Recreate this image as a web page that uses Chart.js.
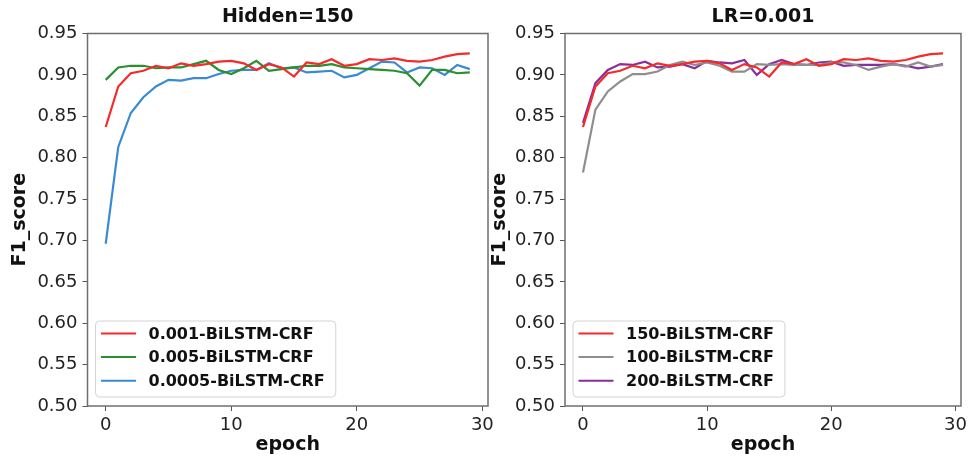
<!DOCTYPE html>
<html lang="en">
<head>
  <meta charset="UTF-8" />
  <title>F1 score per epoch</title>
  <script src="https://cdn.jsdelivr.net/npm/chart.js"></script>
  <style>
    body {
      margin: 0;
      background: #fff;
      font-family: "DejaVu Sans", sans-serif;
    }

    #wrap {
      position: relative;
      width: 971px;
      height: 458px;
      overflow: hidden;
    }

    canvas {
      position: absolute;
      top: 0;
    }
  </style>
</head>
<body>
  <div id="wrap">
    <canvas id="left" width="520" height="458" style="left:0"></canvas>
    <canvas id="right" width="491" height="458" style="left:480px"></canvas>
  </div>

  <script>
    const epochs = [0, 1, 2, 3, 4, 5, 6, 7, 8, 9, 10, 11, 12, 13, 14, 15, 16, 17, 18, 19, 20, 21, 22, 23, 24, 25, 26, 27, 28, 29];
    const xTicks = [0, 10, 20, 30];
    const yTicks = [0.5, 0.55, 0.6, 0.65, 0.7, 0.75, 0.8, 0.85, 0.9, 0.95];

    // left panel: learning rates at hidden=150
    const lr001 = [0.837, 0.886, 0.902, 0.905, 0.911, 0.908, 0.914, 0.911, 0.913, 0.916, 0.917, 0.914, 0.906, 0.913, 0.909, 0.898, 0.915, 0.913, 0.919, 0.911, 0.913, 0.919, 0.918, 0.920, 0.917, 0.916, 0.918, 0.922, 0.925, 0.926];
    const lr005 = [0.894, 0.909, 0.911, 0.911, 0.908, 0.909, 0.909, 0.913, 0.917, 0.906, 0.901, 0.908, 0.917, 0.905, 0.907, 0.909, 0.911, 0.911, 0.913, 0.909, 0.908, 0.907, 0.906, 0.905, 0.902, 0.887, 0.906, 0.906, 0.902, 0.903];
    const lr0005 = [0.696, 0.813, 0.854, 0.873, 0.886, 0.894, 0.893, 0.896, 0.896, 0.901, 0.905, 0.906, 0.906, 0.914, 0.908, 0.909, 0.903, 0.904, 0.905, 0.897, 0.900, 0.908, 0.916, 0.915, 0.903, 0.909, 0.908, 0.900, 0.912, 0.907];

    // right panel: hidden sizes at lr=0.001 (150 is the same run as lr001)
    const h150 = lr001;
    const h100 = [0.782, 0.858, 0.880, 0.892, 0.901, 0.901, 0.904, 0.912, 0.916, 0.912, 0.915, 0.911, 0.904, 0.904, 0.913, 0.912, 0.913, 0.912, 0.912, 0.912, 0.915, 0.915, 0.912, 0.906, 0.910, 0.913, 0.910, 0.915, 0.910, 0.912];
    const h200 = [0.842, 0.890, 0.906, 0.913, 0.912, 0.916, 0.909, 0.910, 0.913, 0.908, 0.917, 0.915, 0.914, 0.918, 0.900, 0.913, 0.918, 0.913, 0.912, 0.915, 0.916, 0.911, 0.912, 0.912, 0.912, 0.913, 0.911, 0.908, 0.910, 0.913];

    const FONT = "DejaVu Sans";

    // matplotlib-like frame + legend in the lower left corner
    const frameLegend = {
      id: "frameLegend",
      afterDatasetsDraw(chart) {
        const { ctx, chartArea: a } = chart;
        const sets = chart.data.datasets;
        ctx.save();

        ctx.font = `bold 16px "${FONT}"`;
        const textW = Math.max(...sets.map((d) => ctx.measureText(d.label).width));
        const bx = a.left + 8;
        const by = a.bottom - 85;
        const bw = 53 + textW + 11;
        const bh = 76;
        ctx.beginPath();
        ctx.roundRect(bx, by, bw, bh, 4);
        ctx.fillStyle = "rgba(255,255,255,0.85)";
        ctx.fill();
        ctx.strokeStyle = "#d4d4d4";
        ctx.lineWidth = 1;
        ctx.stroke();

        sets.forEach((d, i) => {
          const y = by + 12.5 + i * 23.6;
          ctx.beginPath();
          ctx.moveTo(bx + 5.5, y);
          ctx.lineTo(bx + 40.5, y);
          ctx.strokeStyle = d.borderColor;
          ctx.lineWidth = 2;
          ctx.stroke();
          ctx.fillStyle = "#111";
          ctx.textBaseline = "middle";
          ctx.fillText(d.label, bx + 53, y + 1);
        });

        ctx.strokeStyle = "#6e6e6e";
        ctx.lineWidth = 1.5;
        ctx.strokeRect(a.left, a.top, a.right - a.left, a.bottom - a.top);
        ctx.restore();
      },
    };

    function makeChart(id, title, series, yWidth, padRight) {
      const ctx = document.getElementById(id).getContext("2d");
      return new Chart(ctx, {
        type: "line",
        data: {
          datasets: series.map((s) => ({
            label: s.label,
            data: epochs.map((e, i) => ({ x: e, y: s.values[i] })),
            borderColor: s.color,
            borderWidth: 2.2,
            pointRadius: 0,
            fill: false,
            tension: 0,
          })),
        },
        options: {
          animation: false,
          responsive: false,
          devicePixelRatio: 1,
          layout: { padding: { left: 0, right: padRight, top: 0, bottom: 0 } },
          plugins: {
            legend: { display: false },
            tooltip: { enabled: false },
            title: {
              display: true,
              text: title,
              fullSize: false,
              color: "#111",
              font: { family: FONT, size: 19, weight: "bold" },
              padding: { top: 6, bottom: 4.7 },
            },
          },
          scales: {
            x: {
              type: "linear",
              min: -1.45,
              max: 30.45,
              afterBuildTicks: (s) => { s.ticks = xTicks.map((v) => ({ value: v })); },
              afterFit: (s) => { s.height = 52; },
              border: { display: false },
              grid: { drawOnChartArea: false, tickLength: 5, color: "#555" },
              ticks: { color: "#222", padding: 4, font: { family: FONT, size: 18 } },
              title: {
                display: true,
                text: "epoch",
                color: "#111",
                font: { family: FONT, size: 19, weight: "bold" },
                padding: { top: 0, bottom: 1.8 },
              },
            },
            y: {
              type: "linear",
              min: 0.5,
              max: 0.95,
              afterBuildTicks: (s) => { s.ticks = yTicks.map((v) => ({ value: v })); },
              afterFit: (s) => { s.width = yWidth; },
              border: { display: false },
              grid: { drawOnChartArea: false, tickLength: 5, color: "#555" },
              ticks: {
                color: "#222",
                padding: 5,
                font: { family: FONT, size: 18 },
                callback: (v) => v.toFixed(2),
              },
              title: {
                display: true,
                text: "F1_score",
                color: "#111",
                font: { family: FONT, size: 19, weight: "bold" },
                padding: { top: 8.6, bottom: 0 },
              },
            },
          },
        },
        plugins: [frameLegend],
      });
    }

    makeChart("left", "Hidden=150", [
      { label: "0.001-BiLSTM-CRF", values: lr001, color: "#f52a2a" },
      { label: "0.005-BiLSTM-CRF", values: lr005, color: "#2a8f2e" },
      { label: "0.0005-BiLSTM-CRF", values: lr0005, color: "#3a8ad2" },
    ], 87.5, 32);

    makeChart("right", "LR=0.001", [
      { label: "150-BiLSTM-CRF", values: h150, color: "#f52a2a" },
      { label: "100-BiLSTM-CRF", values: h100, color: "#8e8e8e" },
      { label: "200-BiLSTM-CRF", values: h200, color: "#8a2e9c" },
    ], 85, 8);
  </script>
</body>
</html>
